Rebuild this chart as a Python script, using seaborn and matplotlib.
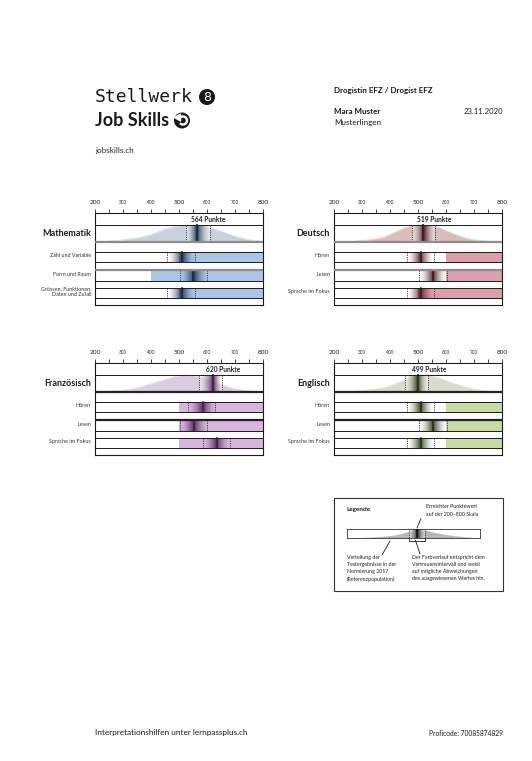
import matplotlib
matplotlib.use('Agg')

import numpy as np
import pandas as pd
import matplotlib.pyplot as plt
import matplotlib.colors as mcolors
from matplotlib.patches import Rectangle, Circle, Arc, Polygon
import seaborn as sns


# ---- data ----
scale_x = list(range(200, 801, 25))

subjects = ['Mathematik', 'Deutsch', 'Französisch', 'Englisch']
scores = [564, 519, 620, 499]
score_lo = [526, 477, 570, 455]
score_hi = [610, 562, 654, 535]

# reference population curve (relative height) at 200, 225, ... 800
dist_math = [0.02, 0.04, 0.06, 0.09, 0.13, 0.18, 0.24, 0.33, 0.44, 0.60, 0.76, 0.88, 0.96,
             1.00, 1.00, 0.97, 0.90, 0.78, 0.63, 0.48, 0.34, 0.23, 0.14, 0.08, 0.04]
dist_deutsch = [0.01, 0.02, 0.03, 0.05, 0.09, 0.13, 0.19, 0.28, 0.45, 0.64, 0.82, 0.95, 1.00,
                1.00, 0.97, 0.85, 0.66, 0.50, 0.34, 0.22, 0.13, 0.08, 0.05, 0.03, 0.01]
dist_franz = [0.02, 0.04, 0.06, 0.08, 0.11, 0.16, 0.25, 0.37, 0.49, 0.61, 0.74, 0.86, 0.96,
              1.00, 0.97, 0.88, 0.75, 0.60, 0.45, 0.30, 0.19, 0.12, 0.07, 0.04, 0.02]
dist_engl = [0.01, 0.02, 0.04, 0.06, 0.09, 0.13, 0.18, 0.26, 0.37, 0.52, 0.72, 0.88, 0.98,
             1.00, 0.94, 0.82, 0.66, 0.52, 0.39, 0.27, 0.17, 0.10, 0.06, 0.03, 0.01]
dists = [dist_math, dist_deutsch, dist_franz, dist_engl]

sub_labels = [
    ['Zahl und Variable', 'Form und Raum', 'Grössen, Funktionen,\nDaten und Zufall'],
    ['Hören', 'Lesen', 'Sprache im Fokus'],
    ['Hören', 'Lesen', 'Sprache im Fokus'],
    ['Hören', 'Lesen', 'Sprache im Fokus'],
]
sub_scores = [[512, 551, 510], [510, 552, 510], [585, 552, 635], [510, 552, 510]]
sub_lo = [[458, 502, 458], [462, 502, 462], [533, 503, 587], [462, 502, 462]]
sub_hi = [[557, 601, 557], [558, 602, 558], [630, 601, 683], [558, 602, 558]]
sub_fill_from = [[500, 400, 500], [600, 600, 500], [500, 500, 500], [600, 600, 600]]

legend_dist = [0.03, 0.04, 0.05, 0.07, 0.10, 0.13, 0.17, 0.23, 0.30, 0.40, 0.55, 0.75, 0.95,
               1.00, 0.92, 0.78, 0.62, 0.50, 0.38, 0.30, 0.22, 0.16, 0.11, 0.07, 0.04]
legend_score, legend_lo, legend_hi = 518, 480, 552

# ---- colours / layout ----
fill_cols = ['#a9c5e8', '#dc9eab', '#d8b5dc', '#c9daa3']
dist_cols = ['#c9d0de', '#dcbeb9', '#dacde2', '#d9dcc7']
dark_cols = ['#1c2f4a', '#4c1a22', '#4d2152', '#2b3a14']
sep_cols = ['#8c8c8c', '#8c8c8c', '#222222', '#222222']
panel_x0 = [95, 334, 95, 334]
panel_top = [213, 213, 363, 363]
PW, PH = 168, 92
W, H = 532, 761
bar_rows = [(39, 49), (57, 68), (75, 85)]
LX0, LX1, LY0, LY1 = 347, 480, 529, 538

sns.set_theme(style='white')
plt.rcParams['font.family'] = ['Lato', 'DejaVu Sans']

fig = plt.figure(figsize=(5.32, 7.61), dpi=100)
bg = fig.add_axes([0, 0, 1, 1])
bg.set_xlim(0, W)
bg.set_ylim(H, 0)
bg.axis('off')


def ci_gradient(ax, lo, s, hi, y0, y1, color, amax=0.92):
    xs = np.linspace(lo, hi, 300)
    d = np.where(xs < s, (s - xs) / (s - lo), (xs - s) / (hi - s))
    a = np.clip(1 - d, 0, 1) ** 1.7 * amax
    rgba = np.zeros((1, len(xs), 4))
    rgba[..., :3] = mcolors.to_rgb(color)
    rgba[..., 3] = a
    ax.imshow(rgba, extent=(lo, hi, y1, y0), aspect='auto', interpolation='bilinear', zorder=3)


for i, subj in enumerate(subjects):
    x0, top = panel_x0[i], panel_top[i]
    ax = fig.add_axes([x0 / W, 1 - (top + PH) / H, PW / W, PH / H])

    # reference distribution
    h = np.array(dists[i])
    ax.fill_between(scale_x, 29, 29 - 17 * h, color=dist_cols[i], lw=0, zorder=1)
    sns.lineplot(x=scale_x, y=list(29 - 17 * h), ax=ax, color=dist_cols[i], lw=0.4, zorder=1)
    ax.fill_between([score_lo[i], score_hi[i]], 12, 29, color='white', alpha=0.45, lw=0, zorder=2)
    ci_gradient(ax, score_lo[i], scores[i], score_hi[i], 12, 29, dark_cols[i])
    ax.plot([scores[i], scores[i]], [12, 29], color=dark_cols[i], lw=1.6, zorder=4)
    for v in (score_lo[i], score_hi[i]):
        ax.plot([v, v], [12, 29], color='#333333', lw=0.6, ls=(0, (1.5, 1.2)), zorder=4)
    ax.text(scores[i] - 22, 6.3, f'{scores[i]} Punkte', fontsize=4.8, fontweight='bold',
            ha='left', va='center', color='#222222')

    # sub scores
    for j, (r0, r1) in enumerate(bar_rows):
        start = sub_fill_from[i][j]
        ax.barh((r0 + r1) / 2, 800 - start, left=start, height=r1 - r0,
                color=fill_cols[i], lw=0, zorder=1)
        ci_gradient(ax, sub_lo[i][j], sub_scores[i][j], sub_hi[i][j], r0, r1, dark_cols[i])
        ax.plot([sub_scores[i][j]] * 2, [r0, r1], color=dark_cols[i], lw=1.4, zorder=4)
        for v in (sub_lo[i][j], sub_hi[i][j]):
            ax.plot([v, v], [r0, r1], color='#333333', lw=0.6, ls=(0, (1.5, 1.2)), zorder=4)
        lab = sub_labels[i][j]
        bg.text(x0 - 4, top + (r0 + r1) / 2 - 1.2, lab, fontsize=3.9, ha='right', va='center',
                color='#333333', linespacing=1.35)

    # table lines
    for y in (12, 39, 49, 68, 75, 85):
        ax.axhline(y, color='#1a1a1a', lw=0.7, zorder=5)
    for y in (29, 57):
        ax.axhline(y, color=sep_cols[i], lw=1.6, zorder=5)

    ax.set_xlim(200, 800)
    ax.set_ylim(PH, 0)
    ax.set_yticks([])
    ax.xaxis.tick_top()
    ticks = list(range(200, 801, 50))
    ax.set_xticks(ticks)
    ax.set_xticklabels([str(t) if t % 100 == 0 else '' for t in ticks])
    ax.tick_params(axis='x', direction='out', length=3, width=0.6, pad=2.5,
                   labelsize=3.4, colors='#222222')
    for t, lbl in zip(ticks, ax.get_xticklabels()):
        if t in (200, 500, 800):
            lbl.set_fontsize(4.6)
    for sp in ax.spines.values():
        sp.set_color('#1a1a1a')
        sp.set_linewidth(0.8)
    ax.set_facecolor('white')

    bg.text(x0 - 4, top + 20.5, subj, fontsize=6.5, fontweight='bold', ha='right',
            va='center', color='#1a1a1a')

# ---- header ----
bg.text(95, 97, 'Stellwerk', family='DejaVu Sans Mono', fontsize=13, ha='left',
        va='center', color='#1a1a1a')
bg.add_patch(Circle((207, 97), 7.3, color='#1a1a1a'))
bg.text(207, 97.5, '8', family='DejaVu Sans', fontsize=9, color='white', ha='center', va='center')
bg.text(95, 121, 'Job Skills', fontsize=13, fontweight='bold', ha='left', va='center',
        color='#1a1a1a')
bg.add_patch(Circle((182, 120.5), 7.3, color='#1a1a1a'))
bg.add_patch(Arc((183, 120.5), 8, 8, theta1=-150, theta2=140, color='white', lw=1.7))
bg.add_patch(Polygon([[174.5, 117.5], [180.5, 114], [180.5, 121]], color='white'))
bg.text(95, 150, 'jobskills.ch', fontsize=5.8, ha='left', va='center', color='#222222')

bg.text(334, 91, 'Drogistin EFZ / Drogist EFZ', fontsize=5.8, fontweight='bold',
        ha='left', va='center', color='#1a1a1a')
bg.text(334, 112, 'Mara Muster', fontsize=5.8, fontweight='bold', ha='left', va='center',
        color='#1a1a1a')
bg.text(334, 123, 'Musterlingen', fontsize=5.8, ha='left', va='center', color='#1a1a1a')
bg.text(503, 112, '23.11.2020', fontsize=5.6, ha='right', va='center', color='#1a1a1a')

# ---- footer ----
bg.text(95, 733, 'Interpretationshilfen unter lernpassplus.ch', fontsize=5.9, ha='left',
        va='center', color='#1a1a1a')
bg.text(503, 733, 'Proficode: 70085874829', fontsize=4.8, ha='right', va='center',
        color='#1a1a1a')

# ---- legend ----
bg.add_patch(Rectangle((334, 498), 169, 93, fill=False, ec='#333333', lw=0.8))
bg.text(346.7, 510, 'Legende', fontsize=4.6, fontweight='bold', ha='left', va='center',
        color='#1a1a1a')
lg = fig.add_axes([LX0 / W, 1 - LY1 / H, (LX1 - LX0) / W, (LY1 - LY0) / H])
lh = np.array(legend_dist)
lg.fill_between(scale_x, 9, 9 - 8.6 * lh, color='#b5b5b5', lw=0, zorder=1)
lg.fill_between([legend_lo, legend_hi], 0, 9, color='white', alpha=0.35, lw=0, zorder=2)
ci_gradient(lg, legend_lo, legend_score, legend_hi, 0, 9, '#1a1a1a')
lg.plot([legend_score] * 2, [0, 9], color='#1a1a1a', lw=1.2, zorder=4)
for v in (legend_lo, legend_hi):
    lg.plot([v, v], [0, 9], color='#333333', lw=0.6, ls=(0, (1.2, 1.0)), zorder=4)
lg.plot([legend_lo, legend_lo, legend_hi, legend_hi], [9.4, 11.5, 11.5, 9.4], color='#1a1a1a',
        lw=0.6, clip_on=False)
lg.set_xlim(200, 800)
lg.set_ylim(9, 0)
lg.set_xticks([])
lg.set_yticks([])
for sp in lg.spines.values():
    sp.set_color('#333333')
    sp.set_linewidth(0.6)

bg.plot([421, 417], [518.5, 528], color='#1a1a1a', lw=0.6)
bg.plot([382, 390], [555, 541], color='#1a1a1a', lw=0.6)
bg.plot([415.5, 420], [540.5, 554], color='#1a1a1a', lw=0.6)

bg.text(426, 506.5, 'Erreichter Punktewert', fontsize=3.8, ha='left', va='center', color='#222222')
bg.text(426, 514.5, 'auf der 200–800 Skala', fontsize=3.8, ha='left', va='center', color='#222222')
left_lines = ['Verteilung der', 'Testergebnisse in der', 'Normierung 2017', '(Referenzpopulation)']
right_lines = ['Der Farbverlauf entspricht dem', 'Vertrauensintervall und weist',
               'auf mögliche Abweichungen', 'des ausgewiesenen Wertes hin.']
for k, (a, b) in enumerate(zip(left_lines, right_lines)):
    bg.text(346.7, 557 + 7.3 * k, a, fontsize=3.8, ha='left', va='center', color='#222222')
    bg.text(411.7, 557 + 7.3 * k, b, fontsize=3.8, ha='left', va='center', color='#222222')

fig.savefig('out.png', dpi=100, facecolor='white')
